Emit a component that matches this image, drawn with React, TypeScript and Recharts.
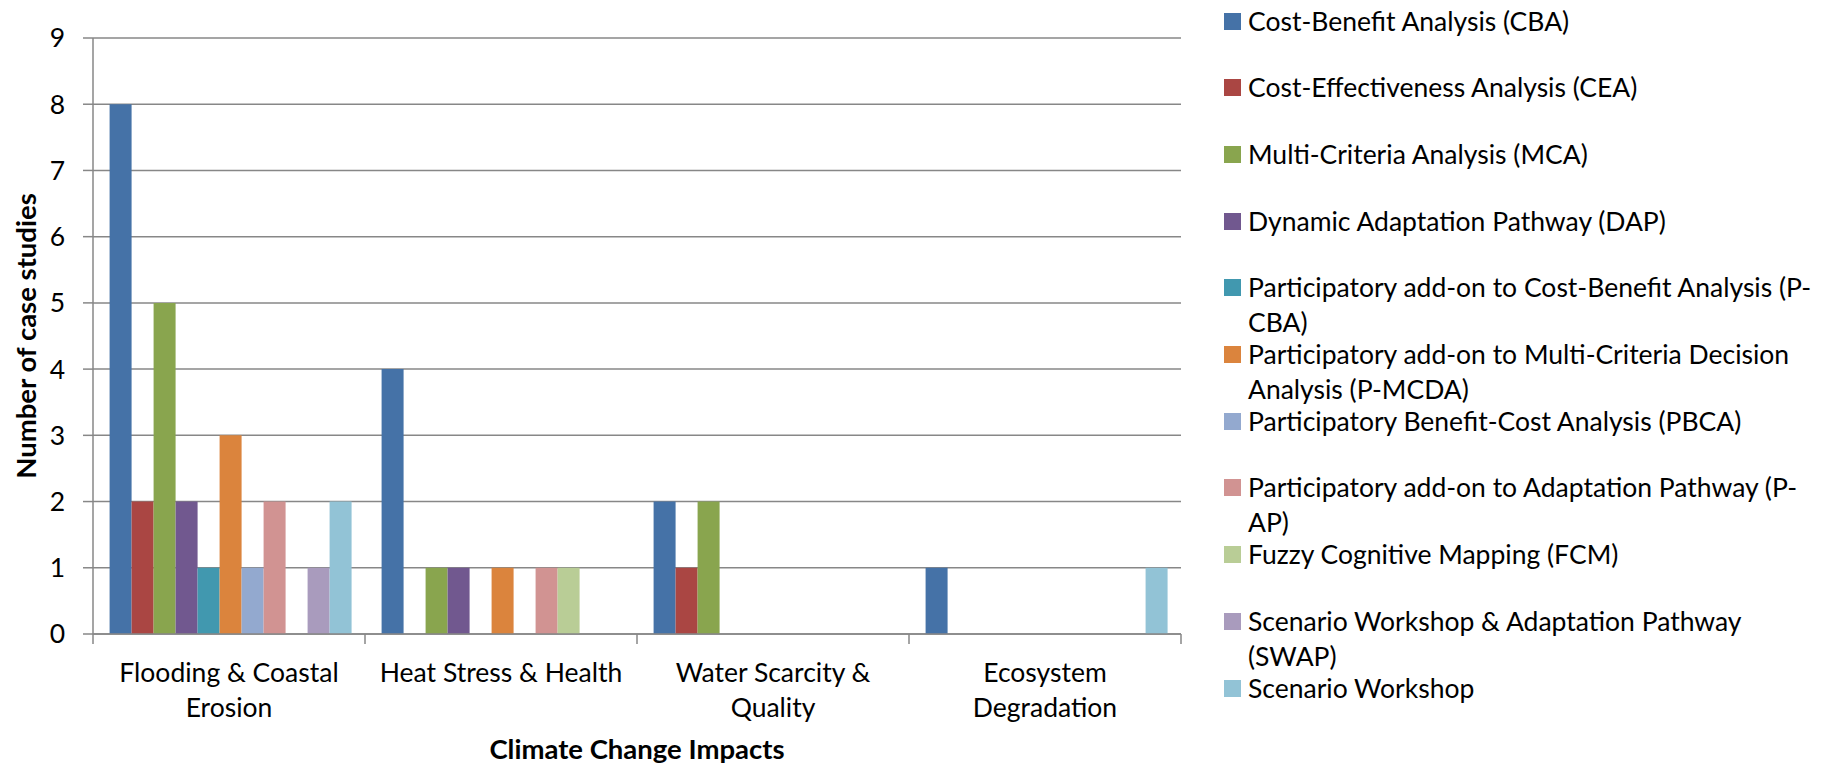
import React from "react";
import { BarChart, Bar, XAxis, YAxis, CartesianGrid, Label } from "recharts";

// Climate change impact categories (x axis) and how each label breaks onto lines
const impacts = [
  "Flooding & Coastal Erosion",
  "Heat Stress & Health",
  "Water Scarcity & Quality",
  "Ecosystem Degradation",
];
const impactLines = [
  ["Flooding & Coastal", "Erosion"],
  ["Heat Stress & Health"],
  ["Water Scarcity &", "Quality"],
  ["Ecosystem", "Degradation"],
];

// Number of case studies per method, one value per impact above
const cba = [8, 4, 2, 1];
const cea = [2, 0, 1, 0];
const mca = [5, 1, 2, 0];
const dap = [2, 1, 0, 0];
const pcba = [1, 0, 0, 0];
const pmcda = [3, 1, 0, 0];
const pbca = [1, 0, 0, 0];
const pap = [2, 1, 0, 0];
const fcm = [0, 1, 0, 0];
const swap = [1, 0, 0, 0];
const sw = [2, 0, 0, 1];

const methodKeys = ["cba", "cea", "mca", "dap", "pcba", "pmcda", "pbca", "pap", "fcm", "swap", "sw"];
const methodValues = [cba, cea, mca, dap, pcba, pmcda, pbca, pap, fcm, swap, sw];
const methodNames = [
  "Cost-Benefit Analysis (CBA)",
  "Cost-Effectiveness Analysis (CEA)",
  "Multi-Criteria Analysis (MCA)",
  "Dynamic Adaptation Pathway (DAP)",
  "Participatory add-on to Cost-Benefit Analysis (P-CBA)",
  "Participatory add-on to Multi-Criteria Decision Analysis (P-MCDA)",
  "Participatory Benefit-Cost Analysis (PBCA)",
  "Participatory add-on to Adaptation Pathway (P-AP)",
  "Fuzzy Cognitive Mapping (FCM)",
  "Scenario Workshop & Adaptation Pathway (SWAP)",
  "Scenario Workshop",
];
// legend wraps long names the same way the spreadsheet did
const legendLines = [
  ["Cost-Benefit Analysis (CBA)"],
  ["Cost-Effectiveness Analysis (CEA)"],
  ["Multi-Criteria Analysis (MCA)"],
  ["Dynamic Adaptation Pathway (DAP)"],
  ["Participatory add-on to Cost-Benefit Analysis (P-", "CBA)"],
  ["Participatory add-on to Multi-Criteria Decision", "Analysis (P-MCDA)"],
  ["Participatory Benefit-Cost Analysis (PBCA)"],
  ["Participatory add-on to Adaptation Pathway (P-", "AP)"],
  ["Fuzzy Cognitive Mapping (FCM)"],
  ["Scenario Workshop & Adaptation Pathway", "(SWAP)"],
  ["Scenario Workshop"],
];
const methodColors = [
  "#4572A7",
  "#AA4643",
  "#89A54E",
  "#71588F",
  "#4198AF",
  "#DB843D",
  "#93A9CF",
  "#D19392",
  "#B9CD96",
  "#A99BBD",
  "#92C3D6",
];

const yTicks = [0, 1, 2, 3, 4, 5, 6, 7, 8, 9];

const data = impacts.map((impact, i) => {
  const row: Record<string, string | number> = { impact };
  methodKeys.forEach((k, m) => {
    row[k] = methodValues[m][i];
  });
  return row;
});

const FONT = "Lato, 'Open Sans', sans-serif";
const TEXT_SIZE = 26.5;
const TITLE_SIZE = 27.5;
const AXIS = "#878787";
const CHART_W = 1191;
const CHART_H = 765;
const MARGIN = { top: 38, right: 10, bottom: 0, left: 0 };
const Y_W = 93;
const BAND = (CHART_W - MARGIN.left - MARGIN.right - Y_W) / impacts.length;

// category label plus the tick marks that sit on the band edges
function ImpactTick(props: any) {
  const { x, y, payload } = props;
  const idx = impacts.indexOf(payload.value);
  const lines = impactLines[idx] ?? [String(payload.value)];
  const half = BAND / 2;
  return (
    <g>
      <line x1={x - half} x2={x - half} y1={y - 10} y2={y} stroke={AXIS} strokeWidth={1.5} />
      {idx === impacts.length - 1 && (
        <line x1={x + half} x2={x + half} y1={y - 10} y2={y} stroke={AXIS} strokeWidth={1.5} />
      )}
      <text x={x} y={y} textAnchor="middle" fontSize={TEXT_SIZE} fill="#000" fontFamily={FONT}>
        {lines.map((l, i) => (
          <tspan key={i} x={x} dy={i === 0 ? 37.5 : 35.5}>
            {l}
          </tspan>
        ))}
      </text>
    </g>
  );
}

export default function App() {
  return (
    <div
      style={{
        position: "absolute",
        left: 0,
        top: 0,
        width: 1836,
        height: 765,
        background: "#fff",
        fontFamily: FONT,
        overflow: "hidden",
      }}
    >
      <BarChart
        width={CHART_W}
        height={CHART_H}
        data={data}
        margin={MARGIN}
        barCategoryGap="6.1%"
        barGap={0}
      >
        <CartesianGrid vertical={false} stroke={AXIS} strokeWidth={1.5} />
        <XAxis
          dataKey="impact"
          interval={0}
          height={131}
          tickSize={10}
          tickMargin={0}
          tickLine={false}
          axisLine={{ stroke: AXIS, strokeWidth: 1.5 }}
          tick={<ImpactTick />}
        >
          <Label
            value="Climate Change Impacts"
            position="insideBottom"
            offset={6}
            style={{ fontSize: TITLE_SIZE, fontWeight: 700, fill: "#000", fontFamily: FONT }}
          />
        </XAxis>
        <YAxis
          width={Y_W}
          domain={[0, 9]}
          ticks={yTicks}
          interval={0}
          tickSize={10}
          tickMargin={18}
          tickLine={{ stroke: AXIS, strokeWidth: 1.5 }}
          axisLine={{ stroke: AXIS, strokeWidth: 1.5 }}
          tick={{ fontSize: TEXT_SIZE, fill: "#000", fontFamily: FONT }}
        >
          <Label
            value="Number of case studies"
            angle={-90}
            position="insideLeft"
            offset={26}
            style={{
              fontSize: TITLE_SIZE,
              fontWeight: 700,
              fill: "#000",
              fontFamily: FONT,
              textAnchor: "middle",
            }}
          />
        </YAxis>
        {methodKeys.map((k, m) => (
          <Bar
            key={k}
            dataKey={k}
            name={methodNames[m]}
            fill={methodColors[m]}
            isAnimationActive={false}
          />
        ))}
      </BarChart>

      {/* legend column on the right */}
      {methodKeys.map((k, m) => (
        <div
          key={k}
          style={{
            position: "absolute",
            left: 1224,
            top: 21 + 66.7 * m - 17.5,
            display: "flex",
            alignItems: "flex-start",
            fontSize: TEXT_SIZE,
            lineHeight: "35px",
            color: "#000",
            whiteSpace: "nowrap",
          }}
        >
          <span
            style={{
              width: 17,
              height: 17,
              marginTop: 9,
              marginRight: 7,
              background: methodColors[m],
              flex: "none",
            }}
          />
          <span>
            {legendLines[m].map((l, i) => (
              <div key={i}>{l}</div>
            ))}
          </span>
        </div>
      ))}
    </div>
  );
}
